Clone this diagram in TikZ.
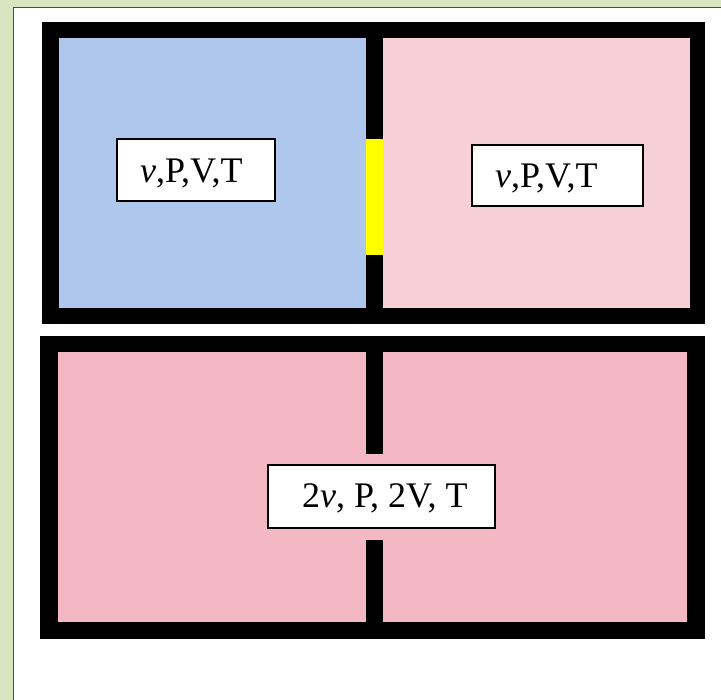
\documentclass[tikz,border=0pt]{standalone}
\usepackage{fontspec}
\setmainfont{Liberation Serif}
\definecolor{bggreen}{HTML}{D9E4C1}
\definecolor{gasblue}{HTML}{AFC7ED}
\definecolor{gaspinkA}{HTML}{F7D0D7}
\definecolor{gaspinkB}{HTML}{F3B8C3}
\definecolor{valve}{HTML}{FFFF00}
\tikzset{
  wall/.style={fill=black, draw=none},
  labelbox/.style={draw=black, line width=2pt, fill=white},
  labeltext/.style={inner sep=0pt, anchor=base west, font=\fontsize{36}{42}\selectfont}
}
\begin{document}
\begin{tikzpicture}[x=1pt,y=-1pt]
\useasboundingbox (0,0) rectangle (721,700);
% background
\fill[bggreen] (0,0) rectangle (721,700);
\fill[white] (13,7) rectangle (721,700);
\draw[black!70, line width=1.5pt] (13.5,701) -- (13.5,7.5) -- (722,7.5);
% top container
\fill[wall] (42,22) rectangle (705,324);
\fill[gasblue] (59,38) rectangle (366,308);
\fill[gaspinkA] (383,38) rectangle (690,308);
\fill[valve] (366,139) rectangle (383,255);
% bottom container
\fill[wall] (40,336) rectangle (705,639);
\fill[gaspinkB] (58,352) rectangle (687,622);
\fill[wall] (365.5,352) rectangle (383,454);
\fill[wall] (365.5,540) rectangle (383,622);
% labels
\draw[labelbox] (117,139) rectangle (275,201);
\node[labeltext] (lbl1) at (140,183) {\textit{v},P,V,T};
\draw[labelbox] (472,145) rectangle (643,206);
\node[labeltext] (lbl2) at (495,188) {\textit{v},P,V,T};
\draw[labelbox] (268,465) rectangle (495,528);
\node[labeltext] (lbl3) at (302,508) {2\textit{v}, P, 2V, T};
\end{tikzpicture}
\end{document}
